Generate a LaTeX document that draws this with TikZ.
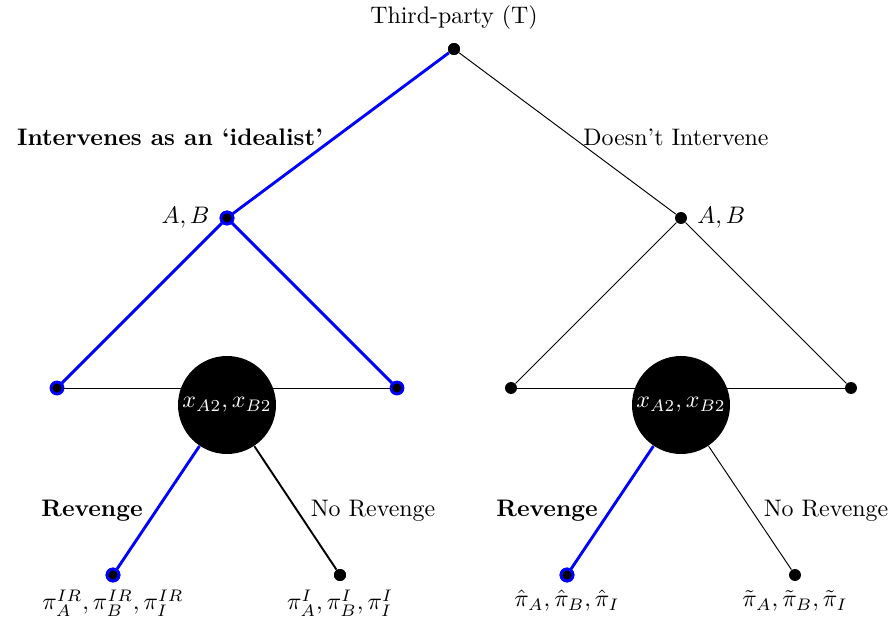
\documentclass[tikz,border=0pt]{standalone}
\usepackage{amsmath}
\begin{document}
\begin{tikzpicture}[x=0.4184pt,y=-0.4184pt,
  dot/.style={circle,fill=black,inner sep=0pt,minimum size=5pt},
  bdot/.style={circle,fill=black,draw=blue,line width=1.2pt,inner sep=0pt,minimum size=5pt},
  big/.style={circle,fill=black,inner sep=0pt,minimum size=41pt,text=white},
  thin/.style={draw=black,line width=0.4pt},
  bline/.style={draw=blue,line width=1.2pt},
  lbl/.style={inner sep=0pt}]
\useasboundingbox (0,0) rectangle (891,621);
% nodes
\node[dot] (r) at (454,49) {};
\node[lbl] (rl) at (454,18) {Third-party (T)};
\node[bdot] (a) at (227,218) {};
\node[dot] (b) at (681,218) {};
\node[bdot] (a1) at (57,388) {};
\node[bdot] (a2) at (397,388) {};
\node[dot] (b1) at (511,388) {};
\node[dot] (b2) at (851,388) {};
% horizontal lines behind circles
\draw[thin] (a1) -- (a2);
\draw[thin] (b1) -- (b2);
\node[big] (ca) at (227,405) {$x_{A2},x_{B2}$};
\node[big] (cb) at (681,405) {$x_{A2},x_{B2}$};
\node[bdot] (l1) at (113,575) {};
\node[dot] (l2) at (340,575) {};
\node[bdot] (l3) at (567,575) {};
\node[dot] (l4) at (795,575) {};
% edges
\draw[bline] (r) -- (a);
\draw[thin] (r) -- (b);
\draw[bline] (a) -- (a1);
\draw[bline] (a) -- (a2);
\draw[thin] (b) -- (b1);
\draw[thin] (b) -- (b2);
\draw[bline] (ca) -- (l1);
\draw[draw=black,line width=0.8pt] (ca) -- (l2);
\draw[bline] (cb) -- (l3);
\draw[thin] (cb) -- (l4);
% redraw node dots on top
\node[bdot] at (a) {};
\node[bdot] at (l1) {};
\node[bdot] at (l3) {};
\node[dot] at (r) {};
\node[dot] at (l2) {};
% labels
\node[lbl] (ia) at (170,137) {\textbf{Intervenes as an `idealist'}};
\node[lbl] (dn) at (676,137) {Doesn't Intervene};
\node[lbl,anchor=east] (ab1) at (210,218) {$A,B$};
\node[lbl,anchor=west] (ab2) at (697,218) {$A,B$};
\node[lbl] (rv1) at (92,511) {\textbf{Revenge}};
\node[lbl] (nr1) at (373,511) {No Revenge};
\node[lbl] (rv2) at (547,511) {\textbf{Revenge}};
\node[lbl] (nr2) at (826,511) {No Revenge};
\node[lbl] (p1) at (113,603) {$\pi_A^{IR},\pi_B^{IR},\pi_I^{IR}$};
\node[lbl] (p2) at (340,603) {$\pi_A^{I},\pi_B^{I},\pi_I^{I}$};
\node[lbl] (p3) at (567,601) {$\hat\pi_A,\hat\pi_B,\hat\pi_I$};
\node[lbl] (p4) at (795,601) {$\tilde\pi_A,\tilde\pi_B,\tilde\pi_I$};
\end{tikzpicture}
\end{document}
